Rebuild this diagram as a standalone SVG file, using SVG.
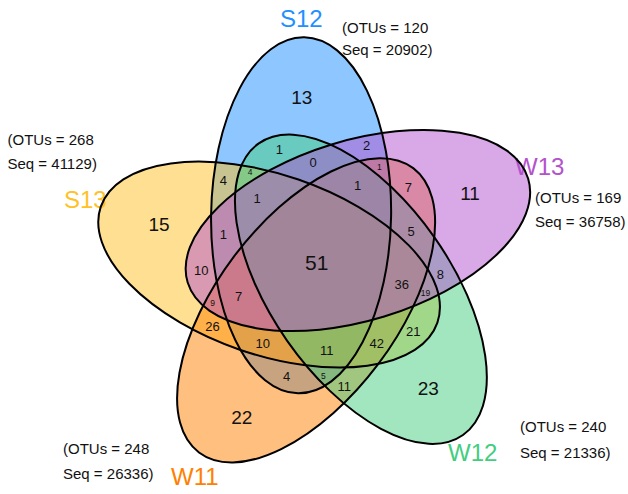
<svg xmlns="http://www.w3.org/2000/svg" xmlns:xlink="http://www.w3.org/1999/xlink" width="628" height="494" viewBox="0 0 628 494">
<style>
.fill{stroke:none;fill-opacity:0.5}
.outline{fill:none;stroke:#000;stroke-width:2}
text{font-family:"Liberation Sans",Arial,sans-serif;fill:#111}
.cnt{text-anchor:middle;font-size:13px}
.big{text-anchor:middle;font-size:19px}
.sm{text-anchor:middle;font-size:8.5px}
.cat{font-size:24px}
.info{font-size:15px;fill:#111}
</style>
<defs>
<ellipse id="shape-S12" cx="301.1" cy="215.3" rx="178" ry="90" transform="rotate(-89 301.1 215.3)"/>
<ellipse id="shape-S13" cx="269.1" cy="264.6" rx="178" ry="90" transform="rotate(19 269.1 264.6)"/>
<ellipse id="shape-W11" cx="306.1" cy="310.3" rx="178" ry="90" transform="rotate(127 306.1 310.3)"/>
<ellipse id="shape-W12" cx="360.9" cy="289.2" rx="178" ry="90" transform="rotate(55 360.9 289.2)"/>
<ellipse id="shape-W13" cx="357.9" cy="230.5" rx="178" ry="90" transform="rotate(-17 357.9 230.5)"/>
</defs>
<g id="set-S12">
<use xlink:href="#shape-S12" class="fill" fill="#1E90FF"/>
<text class="cat" x="280" y="27" style="fill:#1E90FF">S12</text>
<text class="info" x="342" y="33">(OTUs = 120</text>
<text class="info" x="342" y="55">Seq = 20902)</text>
</g>
<g id="set-S13">
<use xlink:href="#shape-S13" class="fill" fill="#FFC125"/>
<text class="cat" x="64" y="208" style="fill:#FFC125">S13</text>
<text class="info" x="7.5" y="145">(OTUs = 268</text>
<text class="info" x="7.5" y="169">Seq = 41129)</text>
</g>
<g id="set-W11">
<use xlink:href="#shape-W11" class="fill" fill="#FF7F00"/>
<text class="cat" x="171" y="485" style="fill:#FF7F00">W11</text>
<text class="info" x="63" y="454">(OTUs = 248</text>
<text class="info" x="63" y="479">Seq = 26336)</text>
</g>
<g id="set-W12">
<use xlink:href="#shape-W12" class="fill" fill="#43CD80"/>
<text class="cat" x="448" y="461" style="fill:#43CD80">W12</text>
<text class="info" x="520" y="432">(OTUs = 240</text>
<text class="info" x="520" y="458">Seq = 21336)</text>
</g>
<g id="set-W13">
<use xlink:href="#shape-W13" class="fill" fill="#B452CD"/>
<text class="cat" x="515" y="175" style="fill:#B452CD">W13</text>
<text class="info" x="535" y="203">(OTUs = 169</text>
<text class="info" x="535" y="227">Seq = 36758)</text>
</g>
<g id="outlines">
<use xlink:href="#shape-S12" class="outline"/>
<use xlink:href="#shape-S13" class="outline"/>
<use xlink:href="#shape-W11" class="outline"/>
<use xlink:href="#shape-W12" class="outline"/>
<use xlink:href="#shape-W13" class="outline"/>
</g>
<g id="counts">
<text class="big" x="301.7" y="103.5">13</text>
<text class="big" x="159" y="230.8">15</text>
<text class="big" x="470" y="200">11</text>
<text class="big" x="241.7" y="423.5">22</text>
<text class="big" x="428.3" y="395">23</text>
<text class="big" x="316.7" y="270.2" style="font-size:21px">51</text>
<text class="cnt" x="279.3" y="153.6">1</text>
<text class="cnt" x="366.7" y="149.6">2</text>
<text class="cnt" x="313" y="167.3">0</text>
<text class="cnt" x="223.3" y="184.6">4</text>
<text class="cnt" x="357.7" y="189.6">1</text>
<text class="cnt" x="408.3" y="192.1">7</text>
<text class="cnt" x="257" y="202.6">1</text>
<text class="cnt" x="223.3" y="239.1">1</text>
<text class="cnt" x="411" y="235.6">5</text>
<text class="cnt" x="201.3" y="275.1">10</text>
<text class="cnt" x="401.7" y="288.6">36</text>
<text class="cnt" x="440.3" y="278.6">8</text>
<text class="cnt" x="238.5" y="301.1">7</text>
<text class="cnt" x="212.5" y="331.3">26</text>
<text class="cnt" x="262.7" y="347.9">10</text>
<text class="cnt" x="326.7" y="354.6">11</text>
<text class="cnt" x="376.7" y="347.9">42</text>
<text class="cnt" x="413.3" y="336.3">21</text>
<text class="cnt" x="286.7" y="381.3">4</text>
<text class="cnt" x="344.3" y="390.6">11</text>
<text class="sm" x="250" y="174.5">4</text>
<text class="sm" x="379.3" y="169.5">1</text>
<text class="sm" x="425.5" y="296">19</text>
<text class="sm" x="212.5" y="306">9</text>
<text class="sm" x="323.3" y="379">5</text>
</g>
</svg>
